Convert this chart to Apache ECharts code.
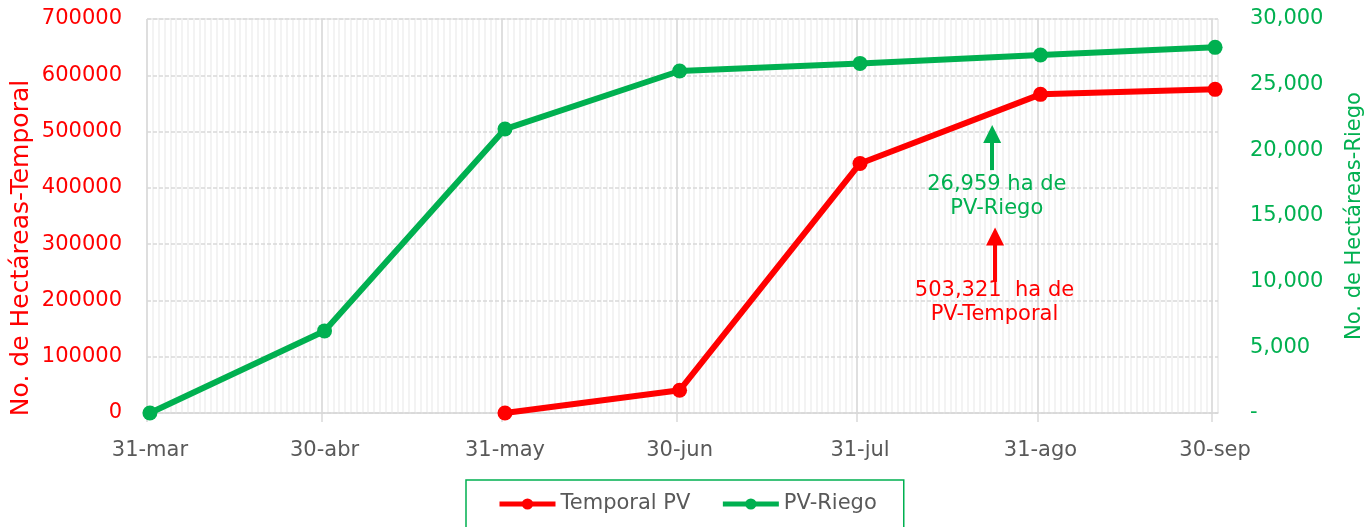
<!DOCTYPE html>
<html>
<head>
<meta charset="utf-8">
<script src="https://cdn.jsdelivr.net/npm/echarts@6.0.0/dist/echarts.min.js"></script>
<style>html,body{margin:0;padding:0;background:#fff}#c{width:1371px;height:527px}</style>
</head>
<body>
<div id="c"></div>
<script>
// ---- data ----
const year = 2023;
const startDate = '03-31';
const endDate = '09-30';
const tickDates = ['03-31', '04-30', '05-31', '06-30', '07-31', '08-31', '09-30'];
const tickLabels = ['31-mar', '30-abr', '31-may', '30-jun', '31-jul', '31-ago', '30-sep'];
const temporalDates = ['05-31', '06-30', '07-31', '08-31', '09-30'];
const temporalValues = [0, 40400, 443400, 566100, 575000];
const riegoDates = ['03-31', '04-30', '05-31', '06-30', '07-31', '08-31', '09-30'];
const riegoValues = [0, 6250, 21620, 26040, 26620, 27260, 27840];
const seriesNames = ['Temporal PV', 'PV-Riego'];
const leftAxisName = 'No. de Hectáreas-Temporal';
const rightAxisName = 'No. de Hectáreas-Riego';
const riegoNoteText = '26,959 ha de\nPV-Riego';
const temporalNoteText = '503,321  ha de\nPV-Temporal';
const riegoArrow = { day: '08-23', from: 18494, to: 21237, textAt: 16474 };
const temporalArrow = { day: '08-23', from: 232920, to: 313640, textAt: 196830 };

// ---- helpers ----
function dayIndex(md) {
  const [m, d] = md.split('-').map(Number);
  const [m0, d0] = startDate.split('-').map(Number);
  return Math.round((Date.UTC(year, m - 1, d) - Date.UTC(year, m0 - 1, d0)) / 86400000);
}
const totalDays = dayIndex(endDate) + 1;
const tickDays = tickDates.map(dayIndex);
const labelDays = tickDays.map(d => d + 0.5);
const pts = (dates, vals) => dates.map((d, i) => [dayIndex(d) + 0.5, vals[i]]);

const RED = '#FF0000', GREEN = '#00B050', GREY = '#595959', GRID = '#d9d9d9';
const FONT = 'DejaVu Sans';

const chart = echarts.init(document.getElementById('c'), null, { renderer: 'canvas' });
chart.setOption({
  animation: false,
  textStyle: { fontFamily: FONT },
  grid: { left: 147, right: 153, top: 19, bottom: 114, containLabel: false, outerBoundsMode: 'none',
          show: true, borderColor: GRID, borderWidth: 1 },
  legend: {
    left: 466, top: 480,
    padding: [12, 27, 30, 31],
    borderColor: GREEN, borderWidth: 1.5,
    itemGap: 30, itemWidth: 56, itemHeight: 14,
    lineStyle: { width: 5 },
    textStyle: { color: GREY, fontSize: 21, lineHeight: 24, fontFamily: FONT },
    data: seriesNames
  },
  graphic: [{
    type: 'text', x: 21, y: 248, rotation: Math.PI / 2, silent: true,
    style: { text: leftAxisName, fill: RED, fontSize: 25, fontFamily: FONT, align: 'center', verticalAlign: 'middle' }
  }],
  xAxis: [
    {
      type: 'value', min: 0, max: totalDays, z: 1,
      axisLine: { show: true, lineStyle: { color: GRID, width: 1.5 } },
      axisTick: { show: true, customValues: tickDays, length: 9, lineStyle: { color: GRID, width: 1.5 } },
      splitLine: { show: true, lineStyle: { color: GRID, width: 1.5 } },
      axisLabel: {
        customValues: labelDays, margin: 27, color: GREY, fontSize: 21, fontFamily: FONT,
        formatter: v => { const i = labelDays.indexOf(v); return i >= 0 ? tickLabels[i] : ''; }
      }
    },
    {
      type: 'value', min: 0, max: totalDays, interval: 1, z: 0, position: 'bottom',
      axisLine: { show: false }, axisTick: { show: false }, axisLabel: { show: false },
      splitLine: { show: true, lineStyle: { color: '#efefef', width: 1.5 } }
    }
  ],
  yAxis: [
    {
      type: 'value', min: 0, max: 700000, interval: 100000, z: 1,
      axisLine: { show: false }, axisTick: { show: false },
      axisLabel: { color: RED, fontSize: 21, margin: 25, fontFamily: FONT, formatter: v => String(v) },
      splitLine: { show: true, lineStyle: { color: GRID, width: 1.5, type: [4, 2] } }
    },
    {
      type: 'value', min: 0, max: 30000, interval: 5000, position: 'right',
      name: rightAxisName, nameLocation: 'middle', nameRotate: 90, nameGap: 126,
      nameTextStyle: { color: GREEN, fontSize: 21, fontFamily: FONT },
      axisLine: { show: false }, axisTick: { show: false },
      axisLabel: { color: GREEN, fontSize: 21, margin: 32, fontFamily: FONT,
        formatter: v => v === 0 ? '-' : v.toLocaleString('en-US') },
      splitLine: { show: false }
    }
  ],
  series: [
    {
      name: seriesNames[0], type: 'line', xAxisIndex: 0, yAxisIndex: 0,
      data: pts(temporalDates, temporalValues),
      symbol: 'circle', symbolSize: 15, color: RED,
      lineStyle: { width: 6, color: RED }, itemStyle: { color: RED }, z: 3,
      markLine: {
        silent: true, symbol: ['none', 'triangle'], symbolSize: 18, animation: false,
        label: { show: false }, lineStyle: { color: RED, width: 4, type: 'solid' },
        emphasis: { disabled: true },
        data: [[{ coord: [dayIndex(temporalArrow.day) + 0.7, temporalArrow.from] },
                { coord: [dayIndex(temporalArrow.day) + 0.7, temporalArrow.to] }]]
      },
      markPoint: {
        silent: true, symbol: 'circle', symbolSize: 0,
        label: { show: true, position: 'inside', color: RED, fontSize: 21, lineHeight: 24, align: 'center', verticalAlign: 'middle', fontFamily: FONT,
                 formatter: () => temporalNoteText },
        data: [{ coord: [dayIndex(temporalArrow.day) + 0.6, temporalArrow.textAt] }]
      }
    },
    {
      name: seriesNames[1], type: 'line', xAxisIndex: 0, yAxisIndex: 1,
      data: pts(riegoDates, riegoValues),
      symbol: 'circle', symbolSize: 15, color: GREEN,
      lineStyle: { width: 6, color: GREEN }, itemStyle: { color: GREEN }, z: 3,
      markLine: {
        silent: true, symbol: ['none', 'triangle'], symbolSize: 18, animation: false,
        label: { show: false }, lineStyle: { color: GREEN, width: 4, type: 'solid' },
        emphasis: { disabled: true },
        data: [[{ coord: [dayIndex(riegoArrow.day) + 0.2, riegoArrow.from] },
                { coord: [dayIndex(riegoArrow.day) + 0.2, riegoArrow.to] }]]
      },
      markPoint: {
        silent: true, symbol: 'circle', symbolSize: 0,
        label: { show: true, position: 'inside', color: GREEN, fontSize: 21, lineHeight: 24, align: 'center', verticalAlign: 'middle', fontFamily: FONT,
                 formatter: () => riegoNoteText },
        data: [{ coord: [dayIndex(riegoArrow.day) + 1.0, riegoArrow.textAt] }]
      }
    }
  ]
});
</script>
</body>
</html>
